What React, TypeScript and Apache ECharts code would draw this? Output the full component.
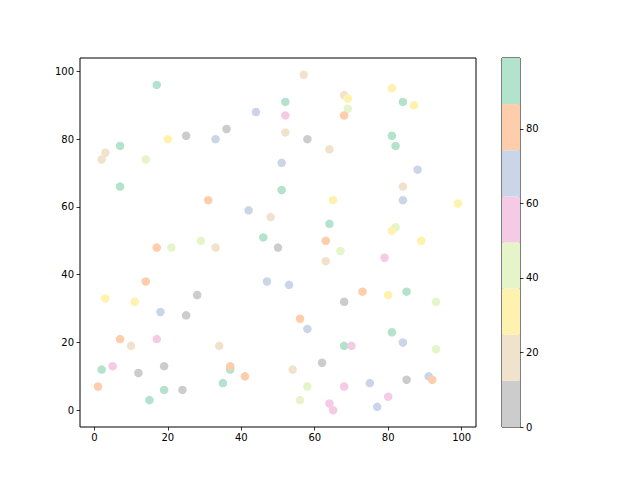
import React, { useEffect, useRef } from "react";
import * as echarts from "echarts";

const xs = [17,57,68,69,69,68,81,84,87,52,52,44,36,33,25,20,52,58,64,81,82,7,3,2,14,7,88,84,84,51,51,31,42,48,65,99,64,46,50,63,67,63,17,21,29,33,82,81,89,79,3,11,14,28,18,25,47,53,68,73,80,85,93,56,58,7,10,17,34,68,70,81,84,93,2,5,12,19,37,37,62,54,1,15,19,24,35,41,56,58,64,65,68,75,77,80,85,91,92];
const ys = [96,99,93,92,89,87,95,91,90,91,87,88,83,80,81,80,82,80,77,81,78,78,76,74,74,66,71,66,62,73,65,62,59,57,62,61,55,51,48,50,47,44,48,48,50,48,54,53,50,45,33,32,38,34,29,28,38,37,32,35,34,35,32,27,24,21,19,21,19,19,19,23,20,18,12,13,11,13,12,13,14,12,7,3,6,6,8,10,3,7,2,0,7,8,1,4,9,10,9];
const cs = [92,16,21,30,44,80,33,95,27,88,55,66,5,70,9,35,19,2,14,90,97,89,23,17,40,93,64,20,72,68,91,78,63,22,29,34,94,87,7,83,46,15,76,42,39,24,48,26,31,58,36,28,85,11,73,3,67,62,8,81,32,98,41,77,65,84,13,52,18,96,60,87,69,45,99,50,4,10,90,79,6,21,75,93,88,0,91,82,38,47,57,54,61,71,66,56,1,70,80];

const binEdges = [0, 12.375, 24.75, 37.125, 49.5, 61.875, 74.25, 86.625, 99];
const binColors = ["#cccccc", "#f1e2cc", "#fff2ae", "#e6f5c9", "#f4cae4", "#cbd5e8", "#fdcdac", "#b3e2cd"];
const axisTicks = [0, 20, 40, 60, 80, 100];
const cbarTicks = [0, 20, 40, 60, 80];

const FONT = "DejaVu Sans";

export default function App() {
  const ref = useRef<HTMLDivElement>(null);
  useEffect(() => {
    if (!ref.current) return;
    const chart = echarts.init(ref.current, null, { renderer: "svg" });
    const data = xs.map((x, i) => [x, ys[i], cs[i]]);
    const pieces = binColors.map((color, i) => ({
      min: binEdges[i],
      max: binEdges[i + 1],
      color,
    }));
    const labelStyle = { color: "#000", fontFamily: FONT, fontSize: 10 };
    const tickStyle = { show: true, inside: false, length: 3.5, lineStyle: { color: "#000", width: 0.8 } };
    chart.setOption({
      animation: false,
      backgroundColor: "#fff",
      grid: [
        { left: 80, top: 58, width: 396, height: 369, show: true, borderColor: "#000", borderWidth: 1, backgroundColor: "transparent", containLabel: false },
        { left: 502, top: 58, width: 18, height: 369, show: true, borderColor: "#000", borderWidth: 1, backgroundColor: "transparent", containLabel: false },
      ],
      visualMap: {
        type: "piecewise",
        show: false,
        dimension: 2,
        seriesIndex: 0,
        pieces,
      },
      xAxis: [
        {
          type: "value",
          gridIndex: 0,
          min: -3.9,
          max: 103.9,
          axisLine: { show: false, onZero: false },
          splitLine: { show: false },
          axisTick: { ...tickStyle, customValues: axisTicks },
          axisLabel: { ...labelStyle, margin: 5, customValues: axisTicks },
        },
        {
          type: "category",
          gridIndex: 1,
          data: [""],
          show: false,
        },
      ],
      yAxis: [
        {
          type: "value",
          gridIndex: 0,
          min: -4.95,
          max: 103.95,
          axisLine: { show: false, onZero: false },
          splitLine: { show: false },
          axisTick: { ...tickStyle, customValues: axisTicks },
          axisLabel: { ...labelStyle, margin: 6, customValues: axisTicks },
        },
        {
          type: "value",
          gridIndex: 1,
          position: "right",
          min: 0,
          max: 99,
          axisLine: { show: false },
          splitLine: { show: false },
          axisTick: { ...tickStyle, customValues: cbarTicks },
          axisLabel: { ...labelStyle, margin: 6, customValues: cbarTicks },
        },
      ],
      series: [
        {
          type: "scatter",
          xAxisIndex: 0,
          yAxisIndex: 0,
          symbolSize: 8.5,
          data,
          itemStyle: { opacity: 1 },
          z: 1,
        },
        ...binColors.map((color, i) => ({
          type: "bar",
          xAxisIndex: 1,
          yAxisIndex: 1,
          stack: "cbar",
          barWidth: "100%",
          barCategoryGap: 0,
          data: [binEdges[i + 1] - binEdges[i]],
          itemStyle: { color },
          z: 0,
        })),
      ],
    });
    return () => chart.dispose();
  }, []);
  return (
    <div
      ref={ref}
      style={{ position: "fixed", left: 0, top: 0, width: 640, height: 480 }}
    />
  );
}
